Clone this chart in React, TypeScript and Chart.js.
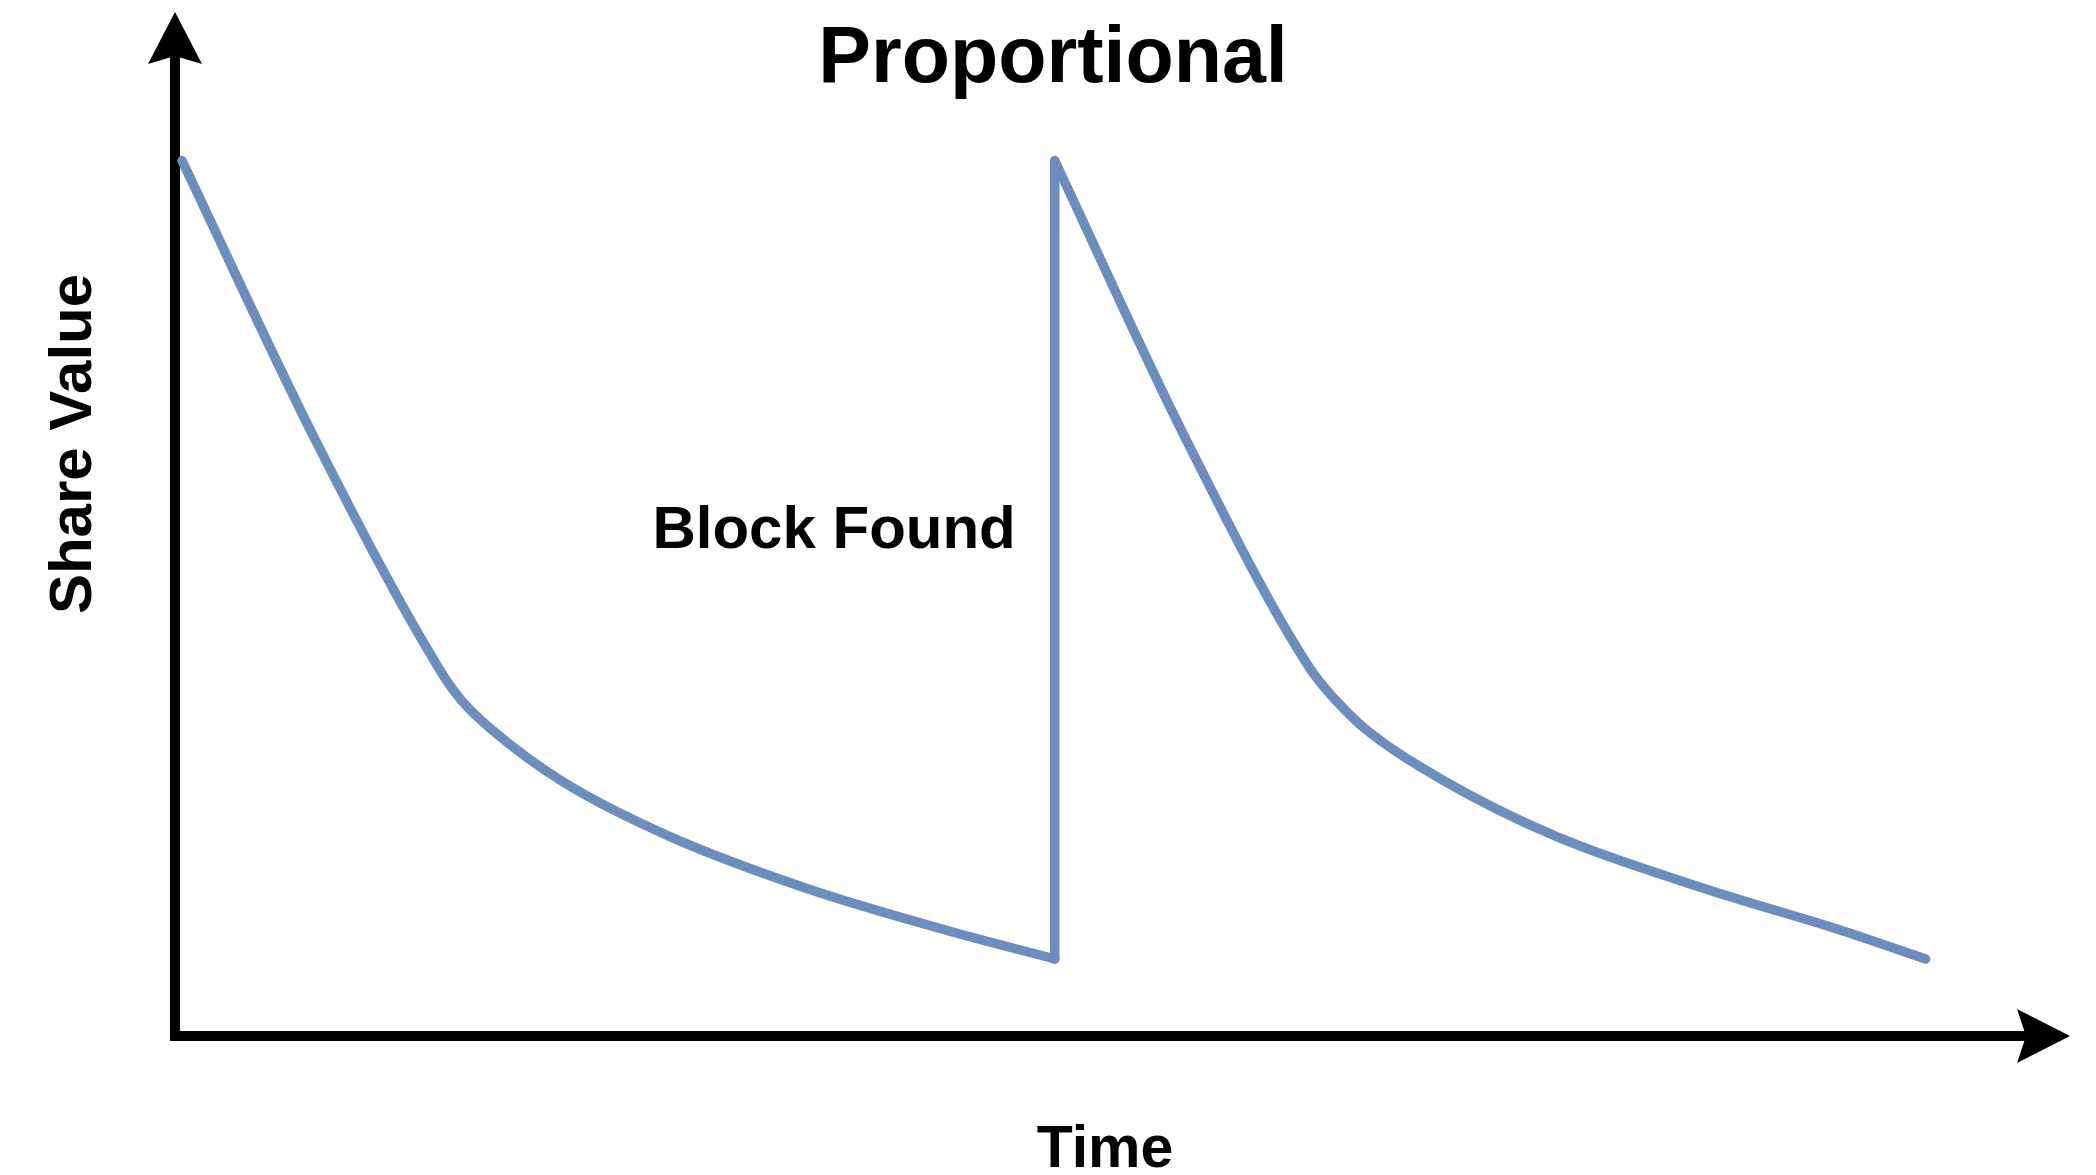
import React, { useEffect, useRef } from "react";
import { Chart, registerables } from "chart.js";

Chart.register(...registerables);

// ---- text ----
const TITLE = "Proportional";
const X_LABEL = "Time";
const Y_LABEL = "Share Value";
const ANNOTATION = "Block Found";

// ---- axis ranges (arrow tips sit at the max values) ----
const X_MAX = 10.77;
const Y_MAX = 11.7;

// ---- data: first payout cycle (share value decays over time) ----
const cycle1Time = [0.04, 0.8, 1.5, 1.63, 1.8, 2.2, 2.8, 3.6, 4.4, 5.0];
const cycle1Value = [10.0, 6.8, 4.2, 3.83, 3.5, 2.91, 2.29, 1.68, 1.2, 0.88];

// ---- block found: value resets ----
const blockTime = [5.0, 5.0];
const blockValue = [0.88, 10.0];

// ---- data: second payout cycle ----
const cycle2Time = [5.0, 5.75, 6.45, 6.6, 6.77, 7.2, 7.85, 8.7, 9.45, 9.95];
const cycle2Value = [10.0, 6.8, 4.2, 3.83, 3.5, 2.93, 2.28, 1.68, 1.22, 0.88];

const ANNOTATION_VALUE = 5.58;

const LINE_COLOR = "#6c8ebf";
const FONT = '"Liberation Sans", Arial, Helvetica, sans-serif';

const toPoints = (xs: number[], ys: number[]) => xs.map((x, i) => ({ x, y: ys[i] }));

const decorPlugin = {
  id: "decor",
  beforeDatasetsDraw(chart: any) {
    const { ctx } = chart;
    const xs = chart.scales.x;
    const ys = chart.scales.y;
    const x0 = xs.getPixelForValue(0);
    const y0 = ys.getPixelForValue(0);
    const xTip = xs.getPixelForValue(X_MAX);
    const yTip = ys.getPixelForValue(Y_MAX);
    ctx.save();
    ctx.strokeStyle = "#000";
    ctx.fillStyle = "#000";
    ctx.lineWidth = 10;
    ctx.lineJoin = "miter";
    ctx.lineCap = "butt";
    ctx.beginPath();
    ctx.moveTo(x0, yTip + 40);
    ctx.lineTo(x0, y0);
    ctx.lineTo(xTip - 40, y0);
    ctx.stroke();
    // top arrowhead
    ctx.beginPath();
    ctx.moveTo(x0, yTip);
    ctx.lineTo(x0 + 27, yTip + 52);
    ctx.lineTo(x0, yTip + 44);
    ctx.lineTo(x0 - 27, yTip + 52);
    ctx.closePath();
    ctx.fill();
    // right arrowhead
    ctx.beginPath();
    ctx.moveTo(xTip, y0);
    ctx.lineTo(xTip - 53, y0 - 27);
    ctx.lineTo(xTip - 44, y0);
    ctx.lineTo(xTip - 53, y0 + 27);
    ctx.closePath();
    ctx.fill();
    ctx.restore();
  },
  afterDraw(chart: any) {
    const { ctx } = chart;
    const xs = chart.scales.x;
    const ys = chart.scales.y;
    ctx.save();
    ctx.fillStyle = "#000";
    ctx.textBaseline = "alphabetic";
    // title
    ctx.font = `bold 79px ${FONT}`;
    ctx.textAlign = "center";
    ctx.fillText(TITLE, 1053, 82);
    // x label
    ctx.font = `bold 59px ${FONT}`;
    ctx.fillText(X_LABEL, 1105, 1167);
    // y label
    ctx.font = `bold 60px ${FONT}`;
    ctx.save();
    ctx.translate(91, 444);
    ctx.rotate(-Math.PI / 2);
    ctx.textAlign = "center";
    ctx.fillText(Y_LABEL, 0, 0);
    ctx.restore();
    // annotation
    ctx.textAlign = "right";
    ctx.fillText(ANNOTATION, xs.getPixelForValue(blockTime[0]) - 39, ys.getPixelForValue(ANNOTATION_VALUE));
    ctx.restore();
  },
};

export default function App() {
  const canvasRef = useRef<HTMLCanvasElement | null>(null);

  useEffect(() => {
    if (!canvasRef.current) return;
    const common = {
      borderColor: LINE_COLOR,
      borderWidth: 9.5,
      pointRadius: 0,
      fill: false,
      borderCapStyle: "round" as const,
      borderJoinStyle: "round" as const,
    };
    const chart = new Chart(canvasRef.current, {
      type: "line",
      data: {
        datasets: [
          { ...common, label: "Cycle 1", data: toPoints(cycle1Time, cycle1Value), cubicInterpolationMode: "monotone" },
          { ...common, label: "Block found", data: toPoints(blockTime, blockValue), tension: 0 },
          { ...common, label: "Cycle 2", data: toPoints(cycle2Time, cycle2Value), cubicInterpolationMode: "monotone" },
        ],
      },
      options: {
        animation: false,
        responsive: false,
        maintainAspectRatio: false,
        layout: { padding: { left: 175, right: 26, top: 12, bottom: 139 } },
        scales: {
          x: { type: "linear", min: 0, max: X_MAX, display: false },
          y: { type: "linear", min: 0, max: Y_MAX, display: false },
        },
        plugins: {
          legend: { display: false },
          tooltip: { enabled: false },
          title: { display: false },
        },
      },
      plugins: [decorPlugin],
    });
    return () => chart.destroy();
  }, []);

  return (
    <div style={{ position: "absolute", left: 0, top: 0, width: 2096, height: 1175, background: "#fff" }}>
      <canvas ref={canvasRef} width={2096} height={1175} style={{ display: "block" }} />
    </div>
  );
}
